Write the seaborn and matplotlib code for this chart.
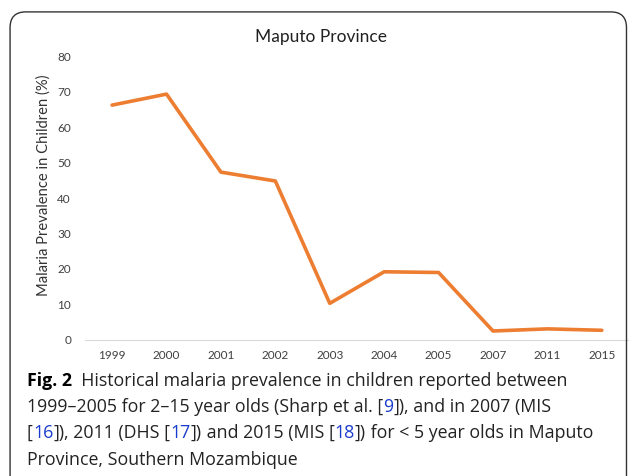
import matplotlib.pyplot as plt
import seaborn as sns
import pandas as pd
from matplotlib.patches import FancyBboxPatch

# Data
years = ['1999', '2000', '2001', '2002', '2003', '2004', '2005', '2007', '2011', '2015']
prevalence = [66.2, 69.3, 47.3, 44.8, 10.3, 19.2, 19.0, 2.5, 3.1, 2.7]
y_ticks = [0, 10, 20, 30, 40, 50, 60, 70, 80]

df = pd.DataFrame({'year': years, 'value': prevalence})

sns.set_style('white')
plt.rcParams['font.family'] = ['Lato', 'DejaVu Sans']

fig = plt.figure(figsize=(6.29, 4.76), dpi=100)
ax = fig.add_axes([0.135, 0.286, 0.865, 0.596])

sns.lineplot(data=df, x='year', y='value', sort=False, color='#ED7D31', linewidth=2.6, ax=ax)

ax.set_ylim(0, 80)
ax.set_yticks(y_ticks)
ax.set_xlim(-0.5, len(years) - 0.5)
ax.tick_params(axis='both', labelsize=8.5, colors='#404040', length=0)
ax.tick_params(axis='x', pad=7)
ax.tick_params(axis='y', pad=10)
for s in ['top', 'right', 'left']:
    ax.spines[s].set_visible(False)
ax.spines['bottom'].set_color('#d9d9d9')
ax.set_xlabel('')
ax.set_ylabel('Malaria Prevalence in Children (%)', fontsize=10.6, color='#333333')
ax.yaxis.set_label_coords(-0.062, 0.546)
fig.text(0.511, 0.922, 'Maputo Province', ha='center', va='center', fontsize=12.5, color='#202020')

# rounded panel frame
frame = FancyBboxPatch((0.016, -0.05), 0.98, 1.025, boxstyle='round,pad=0,rounding_size=0.025',
                       transform=fig.transFigure, fill=False, edgecolor='#333333', linewidth=1.0,
                       mutation_aspect=629 / 476)
fig.patches.append(frame)

# caption, written in pieces so the reference numbers can be blue
cap_font = ['Open Sans', 'DejaVu Sans']
cap_size = 12.8
blue = '#1a3ccc'
lines = [
    [('Fig. 2', 'black', 'bold'), ('  Historical malaria prevalence in children reported between', '#222222', 'normal')],
    [('1999\u20132005 for 2\u201315 year olds (Sharp et al. [', '#222222', 'normal'), ('9', blue, 'normal'),
     ('])', '#222222', 'normal'), (', and in 2007 (MIS', '#222222', 'normal')],
    [('[', '#222222', 'normal'), ('16', blue, 'normal'), ('])', '#222222', 'normal'),
     (', 2011 (DHS [', '#222222', 'normal'), ('17', blue, 'normal'), ('])', '#222222', 'normal'),
     (' and 2015 (MIS [', '#222222', 'normal'), ('18', blue, 'normal'),
     ('])', '#222222', 'normal'), (' for < 5 year olds in Maputo', '#222222', 'normal')],
    [('Province, Southern Mozambique', '#222222', 'normal')],
]
baselines = [386, 412, 438, 465]
for parts, yb in zip(lines, baselines):
    prev = None
    for txt, col, wt in parts:
        if prev is None:
            prev = fig.text(27 / 629, 1 - yb / 476, txt, ha='left', va='baseline', fontsize=cap_size,
                            color=col, fontweight=wt, family=cap_font)
        else:
            prev = ax.annotate(txt, xy=(1, 0), xycoords=prev, ha='left', va='bottom', fontsize=cap_size,
                               color=col, fontweight=wt, family=cap_font, annotation_clip=False)

fig.savefig('out.png', dpi=100)
